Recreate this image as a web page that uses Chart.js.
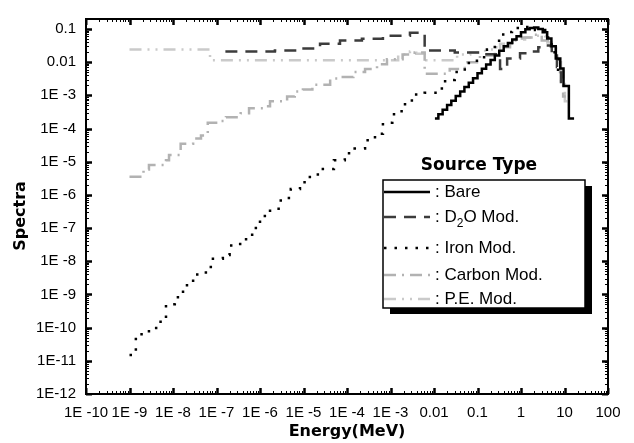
<!DOCTYPE html>
<html>
<head>
<meta charset="utf-8">
<script src="https://cdn.jsdelivr.net/npm/chart.js@4.4.1/dist/chart.umd.min.js"></script>
<style>
  html, body { margin: 0; padding: 0; background: #fff; }
  #wrap { width: 634px; height: 443px; }
</style>
</head>
<body>
<div id="wrap"><canvas id="myChart" width="634" height="443"></canvas></div>
<script>
// axis ticks
const xTickValues = [1e-10, 1e-9, 1e-8, 1e-7, 1e-6, 1e-5, 1e-4, 1e-3, 0.01, 0.1, 1, 10, 100];
const xTickLabels = ['1E -10', '1E -9', '1E -8', '1E -7', '1E -6', '1E -5', '1E -4', '1E -3', '0.01', '0.1', '1', '10', '100'];
const yTickValues = [1e-12, 1e-11, 1e-10, 1e-9, 1e-8, 1e-7, 1e-6, 1e-5, 1e-4, 1e-3, 0.01, 0.1];
const yTickLabels = ['1E-12', '1E-11', '1E-10', '1E -9', '1E -8', '1E -7', '1E -6', '1E -5', '1E -4', '1E -3', '0.01', '0.1'];

// spectra (energy in MeV, histogram lower edges)
const bareX = [0.0105, 0.0126, 0.0158, 0.02, 0.025, 0.0316, 0.04, 0.05, 0.063, 0.079, 0.1, 0.126, 0.158, 0.2, 0.25, 0.316, 0.4, 0.5, 0.63, 0.79, 1.0, 1.26, 1.58, 2.0, 2.5, 3.16, 4.0, 5.0, 6.3, 8.0, 9.5, 12.6, 16.6];
const bareY = [2e-4, 2.7e-4, 3.7e-4, 5.1e-4, 6.9e-4, 9.5e-4, 1.3e-3, 1.8e-3, 2.4e-3, 3.3e-3, 4.6e-3, 6.3e-3, 8.5e-3, 0.0117, 0.016, 0.022, 0.030, 0.038, 0.048, 0.060, 0.080, 0.098, 0.108, 0.110, 0.100, 0.080, 0.052, 0.030, 0.013, 0.0065, 1.9e-3, 2e-4, 2e-4];

const d2oX = [1.6e-7, 2.2e-6, 8.3e-6, 2.4e-5, 6.9e-5, 2.2e-4, 6.7e-4, 2.8e-3, 6.1e-3, 0.03, 0.115, 0.33, 0.48, 0.95, 1.6, 2.5, 3.7, 5.1, 6.7, 8.3, 9.8];
const d2oY = [0.021, 0.0226, 0.026, 0.036, 0.045, 0.051, 0.063, 0.077, 0.0226, 0.0197, 0.0174, 6.2e-3, 0.013, 0.0186, 0.021, 0.028, 0.032, 0.016, 7.1e-3, 1.8e-3, 1.8e-3];

const ironX = [1e-9, 1.4e-9, 2.8e-9, 4.1e-9, 6.9e-9, 1.1e-8, 1.7e-8, 2.9e-8, 5.7e-8, 7.4e-8, 1.4e-7, 2.0e-7, 3.5e-7, 6.6e-7, 1.0e-6, 1.7e-6, 3.0e-6, 5.1e-6, 8.3e-6, 1.4e-5, 2.4e-5, 5.0e-5, 8.9e-5, 1.5e-4, 2.6e-4, 4.4e-4, 6.7e-4, 1.1e-3, 1.8e-3, 3.1e-3, 6.1e-3, 0.0117, 0.018, 0.030, 0.051, 0.097, 0.165, 0.25, 0.39, 0.62, 1.05, 2.1, 3.6, 5.1, 7.1, 8.7];
const ironY = [1.5e-11, 6.3e-11, 8.9e-11, 1.5e-10, 5.1e-10, 8.3e-10, 1.9e-9, 4.0e-9, 6.0e-9, 1.2e-8, 1.55e-8, 3.0e-8, 4.6e-8, 1.0e-7, 2.3e-7, 3.8e-7, 8.0e-7, 1.5e-6, 2.4e-6, 4.1e-6, 6.0e-6, 1.1e-5, 1.8e-5, 2.5e-5, 4.4e-5, 7.0e-5, 1.5e-4, 2.7e-4, 5.4e-4, 1.07e-3, 1.2e-3, 1.6e-3, 2.9e-3, 5.1e-3, 9.4e-3, 0.014, 0.024, 0.044, 0.081, 0.107, 0.115, 0.093, 0.055, 0.020, 5.1e-3, 5.1e-3];

const carbonX = [1e-9, 2.1e-9, 2.8e-9, 6.9e-9, 8.1e-9, 1.5e-8, 2.9e-8, 4.4e-8, 6.3e-8, 1.07e-7, 1.65e-7, 3.6e-7, 5.6e-7, 1.3e-6, 1.7e-6, 4.2e-6, 6.3e-6, 9.7e-6, 1.6e-5, 4.1e-5, 6.9e-5, 1.4e-4, 2.6e-4, 4.9e-4, 8.3e-4, 1.9e-3, 3.6e-3, 6.1e-3, 0.023, 0.051, 0.114, 0.25, 0.56, 1.05, 1.9, 3.0, 4.7, 6.4, 7.9, 9.3, 10.7];
const carbonY = [3.5e-6, 5.8e-6, 8e-6, 1.1e-5, 1.6e-5, 3.5e-5, 5e-5, 6.2e-5, 1.5e-4, 1.7e-4, 2.2e-4, 2.9e-4, 4.1e-4, 4.7e-4, 6.6e-4, 9.3e-4, 1.3e-3, 1.5e-3, 2.1e-3, 3.2e-3, 3.6e-3, 5.1e-3, 6.2e-3, 8.7e-3, 0.0123, 0.017, 0.0197, 4.5e-3, 6.2e-3, 0.010, 0.016, 0.028, 0.045, 0.055, 0.067, 0.045, 0.027, 0.014, 5.1e-3, 9.3e-4, 9.3e-4];

const peX = [1e-9, 7.1e-8, 1.5e-3, 2.8e-3, 3.9e-3, 6.6e-3, 0.034, 0.068, 0.15, 0.33, 0.73, 1.24, 2.1, 3.6, 5.1, 6.7, 8.3, 10.2, 12];
const peY = [0.024, 0.0115, 0.017, 0.021, 0.018, 0.0115, 0.017, 0.0197, 0.024, 0.036, 0.048, 0.055, 0.063, 0.039, 0.020, 0.010, 2.2e-3, 6.6e-4, 6.6e-4];

const seriesNames = ['Bare', 'D2O Mod.', 'Iron Mod.', 'Carbon Mod.', 'P.E. Mod.'];

function pts(xs, ys) {
  return xs.map((x, i) => ({ x: x, y: ys[i] }));
}

const datasets = [
  { label: seriesNames[0], data: pts(bareX, bareY), borderColor: '#000', borderWidth: 2.5, borderDash: [] },
  { label: seriesNames[1], data: pts(d2oX, d2oY), borderColor: '#3c3c3c', borderWidth: 2.5, borderDash: [12, 8] },
  { label: seriesNames[2], data: pts(ironX, ironY), borderColor: '#000', borderWidth: 2.5, borderDash: [2.5, 8] },
  { label: seriesNames[3], data: pts(carbonX, carbonY), borderColor: '#b2b2b2', borderWidth: 2.5, borderDash: [12, 6, 2, 6] },
  { label: seriesNames[4], data: pts(peX, peY), borderColor: '#cacaca', borderWidth: 2.5, borderDash: [12, 6, 2, 6, 2, 6] }
];
datasets.forEach(d => {
  d.stepped = true;
  d.pointRadius = 0;
  d.fill = false;
  d.tension = 0;
});

// frame with inward major/minor ticks on all four sides
const framePlugin = {
  id: 'frame',
  afterDatasetsDraw(chart) {
    const { ctx, chartArea: a, scales } = chart;
    const x = scales.x, y = scales.y;
    ctx.save();
    ctx.strokeStyle = '#000';
    ctx.lineWidth = 2;
    ctx.strokeRect(a.left, a.top, a.right - a.left, a.bottom - a.top);
    for (let e = -10; e <= 1; e++) {
      for (let m = 1; m <= 10; m++) {
        const v = m * Math.pow(10, e);
        const px = Math.round(x.getPixelForValue(v)) + 0.5;
        const len = (m === 1 || m === 10) ? 6 : 3;
        ctx.lineWidth = (m === 1 || m === 10) ? 2 : 1;
        ctx.beginPath();
        ctx.moveTo(px, a.bottom); ctx.lineTo(px, a.bottom - len);
        ctx.moveTo(px, a.top); ctx.lineTo(px, a.top + len);
        ctx.stroke();
      }
    }
    for (let e = -12; e <= -1; e++) {
      for (let m = 1; m <= 10; m++) {
        const v = m * Math.pow(10, e);
        if (v > y.max) break;
        const py = Math.round(y.getPixelForValue(v)) + 0.5;
        const len = (m === 1 || m === 10) ? 6 : 3;
        ctx.lineWidth = (m === 1 || m === 10) ? 2 : 1;
        ctx.beginPath();
        ctx.moveTo(a.left, py); ctx.lineTo(a.left + len, py);
        ctx.moveTo(a.right, py); ctx.lineTo(a.right - len, py);
        ctx.stroke();
      }
    }
    ctx.restore();
  }
};

// axis titles + boxed legend with shadow
const legendPlugin = {
  id: 'boxLegend',
  afterDraw(chart) {
    const ctx = chart.ctx;
    ctx.save();
    ctx.fillStyle = '#000';
    ctx.font = 'bold 16px "DejaVu Sans"';
    ctx.textAlign = 'center';
    ctx.textBaseline = 'middle';
    ctx.fillText('Energy(MeV)', 347, 432);
    ctx.save();
    ctx.translate(21, 216);
    ctx.rotate(-Math.PI / 2);
    ctx.fillText('Spectra', 0, 0);
    ctx.restore();

    ctx.font = 'bold 17px "DejaVu Sans"';
    ctx.fillText('Source Type', 479, 166);

    const bx = 383, by = 180, bw = 202, bh = 128;
    ctx.fillStyle = '#000';
    ctx.fillRect(bx + 7, by + 6, bw, bh);
    ctx.fillStyle = '#fff';
    ctx.fillRect(bx, by, bw, bh);
    ctx.strokeStyle = '#000';
    ctx.lineWidth = 1.5;
    ctx.strokeRect(bx, by, bw, bh);

    const rows = [192, 217, 248, 275, 299];
    ctx.textAlign = 'left';
    ctx.font = '17px "Liberation Sans"';
    chart.data.datasets.forEach((ds, i) => {
      const ry = rows[i];
      ctx.save();
      ctx.strokeStyle = ds.borderColor;
      ctx.lineWidth = ds.borderWidth;
      ctx.setLineDash(ds.borderDash);
      ctx.beginPath();
      ctx.moveTo(bx + 1, ry);
      ctx.lineTo(430, ry);
      ctx.stroke();
      ctx.restore();
      ctx.fillStyle = '#000';
      if (ds.label === 'D2O Mod.') {
        let tx = 435;
        ctx.fillText(': D', tx, ry);
        tx += ctx.measureText(': D').width;
        ctx.font = '12px "Liberation Sans"';
        ctx.fillText('2', tx, ry + 7);
        tx += ctx.measureText('2').width;
        ctx.font = '17px "Liberation Sans"';
        ctx.fillText('O Mod.', tx, ry);
      } else {
        ctx.fillText(': ' + ds.label, 435, ry);
      }
    });
    ctx.restore();
  }
};

new Chart(document.getElementById('myChart'), {
  type: 'line',
  data: { datasets: datasets },
  options: {
    responsive: false,
    animation: false,
    devicePixelRatio: 1,
    layout: { padding: { top: 11, right: 26, left: 0, bottom: 0 } },
    plugins: { legend: { display: false }, tooltip: { enabled: false } },
    scales: {
      x: {
        type: 'logarithmic',
        min: 1e-10,
        max: 100,
        grid: { display: false, drawTicks: false },
        border: { display: false },
        afterBuildTicks: s => { s.ticks = xTickValues.map(v => ({ value: v })); },
        afterFit: s => { s.height = 49; },
        ticks: {
          autoSkip: false,
          maxRotation: 0,
          padding: 10,
          color: '#000',
          font: { family: 'Liberation Sans', size: 15 },
          callback: (v, i) => xTickLabels[i]
        }
      },
      y: {
        type: 'logarithmic',
        min: 1e-12,
        max: 0.2,
        grid: { display: false, drawTicks: false },
        border: { display: false },
        afterBuildTicks: s => { s.ticks = yTickValues.map(v => ({ value: v })); },
        afterFit: s => { s.width = 86; },
        ticks: {
          autoSkip: false,
          padding: 10,
          color: '#000',
          font: { family: 'Liberation Sans', size: 15 },
          callback: (v, i) => yTickLabels[i]
        }
      }
    }
  },
  plugins: [framePlugin, legendPlugin]
});
</script>
</body>
</html>
